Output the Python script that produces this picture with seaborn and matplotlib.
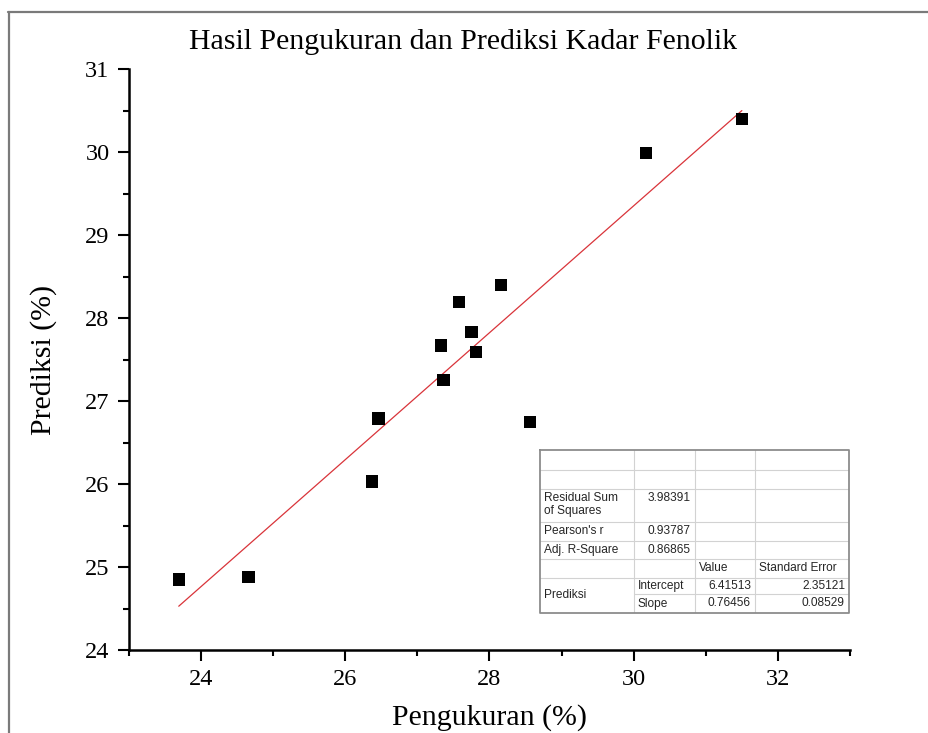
import numpy as np
import pandas as pd
import matplotlib
matplotlib.use("Agg")
import matplotlib.pyplot as plt
from matplotlib.lines import Line2D
from matplotlib.ticker import MultipleLocator
import seaborn as sns

# Measured vs. predicted phenolic content (%)
pengukuran = [23.69, 24.66, 26.37, 26.46, 27.33, 27.36, 27.58, 27.75, 27.81, 28.16, 28.56, 30.17, 31.50]
prediksi = [24.85, 24.88, 26.03, 26.79, 27.67, 27.25, 28.19, 27.83, 27.59, 28.40, 26.75, 29.99, 30.40]

# Linear fit statistics
intercept = 6.41513
intercept_se = 2.35121
slope = 0.76456
slope_se = 0.08529
rss = 3.98391
pearson_r = 0.93787
adj_r2 = 0.86865

x_ticks = [24, 26, 28, 30, 32]
y_ticks = [24, 25, 26, 27, 28, 29, 30, 31]

sns.set_theme(style="ticks")
plt.rcParams["font.family"] = ["Liberation Serif", "DejaVu Serif"]

W, H = 929, 733
fig = plt.figure(figsize=(W / 100, H / 100), dpi=100)
fig.patch.set_facecolor("white")


def px_box(x0, y0, x1, y1):
    """Figure-fraction rect from pixel corners (top-left origin)."""
    return [x0 / W, 1 - y1 / H, (x1 - x0) / W, (y1 - y0) / H]


ax = fig.add_axes(px_box(129, 69, 850, 650))
ax.set_facecolor("white")

df = pd.DataFrame({"Pengukuran": pengukuran, "Prediksi": prediksi})

x_fit = np.array([min(pengukuran), max(pengukuran)])
fit_df = pd.DataFrame({"x": x_fit, "y": intercept + slope * x_fit})
sns.lineplot(data=fit_df, x="x", y="y", ax=ax, color="#d9343a", linewidth=0.9)

sns.scatterplot(data=df, x="Pengukuran", y="Prediksi", ax=ax, marker="s",
                s=80, color="black", edgecolor="none", zorder=3)

ax.set_xlim(23, 33)
ax.set_ylim(24, 31)
ax.set_xticks(x_ticks)
ax.set_yticks(y_ticks)
ax.xaxis.set_minor_locator(MultipleLocator(1))
ax.yaxis.set_minor_locator(MultipleLocator(0.5))

for side in ("top", "right"):
    ax.spines[side].set_visible(False)
for side in ("left", "bottom"):
    ax.spines[side].set_linewidth(1.8)
    ax.spines[side].set_color("black")

ax.tick_params(which="major", direction="out", length=8, width=1.5,
               color="black", labelsize=17.5, labelcolor="black", pad=6)
ax.tick_params(which="minor", direction="out", length=4, width=1.5, color="black")

ax.set_xlabel("Pengukuran (%)", fontsize=21.5, color="black", labelpad=10)
ax.set_ylabel("Prediksi (%)", fontsize=21.5, color="black", labelpad=20)

fig.text(463.5 / W, 1 - 42 / H, "Hasil Pengukuran dan Prediksi Kadar Fenolik",
         ha="center", va="center", fontsize=21.5, color="black")

# Frame edges along top and left
fig.add_artist(Line2D([8 / W, 1], [1 - 12 / H, 1 - 12 / H], transform=fig.transFigure,
                      color="#7a7a7a", linewidth=1.6))
fig.add_artist(Line2D([9 / W, 9 / W], [0, 1 - 12 / H], transform=fig.transFigure,
                      color="#7a7a7a", linewidth=1.6))

# Fit statistics table
tx0, ty0, tx1, ty1 = 540, 450, 849, 613
tab = fig.add_axes(px_box(tx0, ty0, tx1, ty1))
tw, th = tx1 - tx0, ty1 - ty0
tab.set_xlim(0, tw)
tab.set_ylim(th, 0)
tab.axis("off")
tab.patch.set_visible(False)

cols = [0, 94, 155, 215, tw]
rows = [0, 20, 38.6, 71.5, 90.6, 109, 127.5, 144, th]
grid_c = "#d2d2d2"
for r in rows[1:-1]:
    start = cols[1] if r == rows[7] else 0
    tab.plot([start, tw], [r, r], color=grid_c, linewidth=0.8)
for c in cols[1:-1]:
    tab.plot([c, c], [0, th], color=grid_c, linewidth=0.8)
tab.plot([0, tw, tw, 0, 0], [0, 0, th, th, 0], color="#8c8c8c", linewidth=1.3,
         clip_on=False)

tfont = dict(family=["Liberation Sans", "DejaVu Sans"], fontsize=8.6, color="#262626")
pad = 4


def cell_text(col, row0, row1, text, align="left", valign="center"):
    if align == "left":
        x = cols[col] + pad
    else:
        x = cols[col + 1] - pad
    if valign == "top":
        y = rows[row0] + 3
        va = "top"
    else:
        y = (rows[row0] + rows[row1]) / 2
        va = "center"
    tab.text(x, y, text, ha=align, va=va, linespacing=1.15, **tfont)


cell_text(0, 2, 3, "Residual Sum\nof Squares", valign="top")
cell_text(1, 2, 3, f"{rss:.5f}", align="right", valign="top")
cell_text(0, 3, 4, "Pearson's r")
cell_text(1, 3, 4, f"{pearson_r:.5f}", align="right")
cell_text(0, 4, 5, "Adj. R-Square")
cell_text(1, 4, 5, f"{adj_r2:.5f}", align="right")
cell_text(2, 5, 6, "Value")
cell_text(3, 5, 6, "Standard Error")
cell_text(0, 6, 8, "Prediksi")
cell_text(1, 6, 7, "Intercept")
cell_text(2, 6, 7, f"{intercept:.5f}", align="right")
cell_text(3, 6, 7, f"{intercept_se:.5f}", align="right")
cell_text(1, 7, 8, "Slope")
cell_text(2, 7, 8, f"{slope:.5f}", align="right")
cell_text(3, 7, 8, f"{slope_se:.5f}", align="right")

fig.savefig("out.png", dpi=100, facecolor="white")
